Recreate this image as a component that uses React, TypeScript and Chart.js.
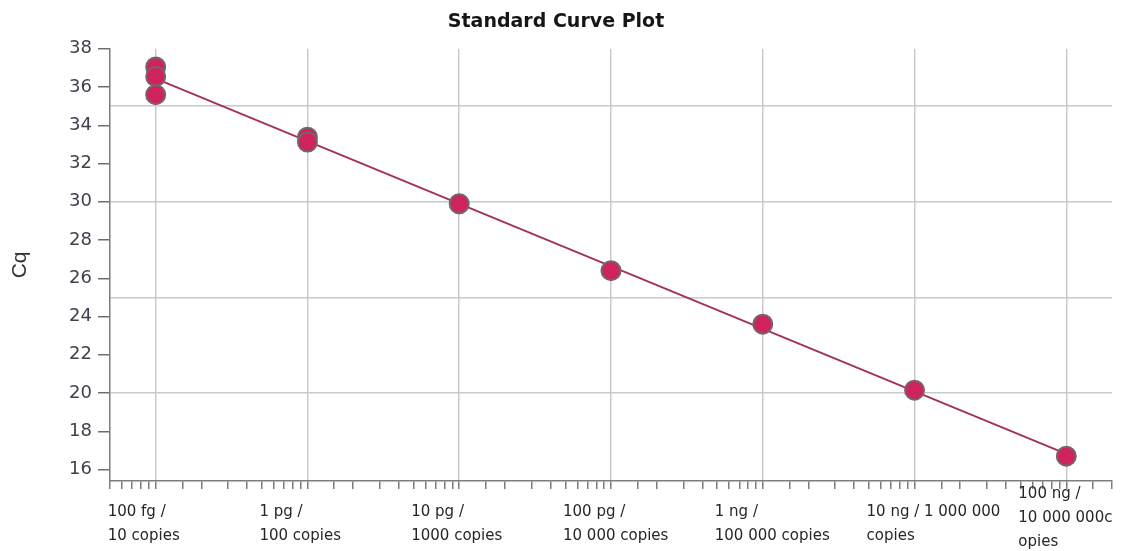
import { useEffect, useRef } from 'react';
import { Chart, registerables } from 'chart.js';

Chart.register(...registerables);

// Standard dilution series: template copies per reaction and measured Cq
const copies = [10, 10, 10, 100, 100, 1000, 10000, 100000, 1000000, 10000000];
const cqValues = [37.05, 36.55, 35.6, 33.38, 33.12, 29.9, 26.4, 23.6, 20.15, 16.7];

// Decade positions on the quantity axis and their labels
const decadeValues = [10, 100, 1000, 10000, 100000, 1000000, 10000000];
const decadeLabels = [
  ['100 fg /', '10 copies'],
  ['1 pg /', '100 copies'],
  ['10 pg /', '1000 copies'],
  ['100 pg /', '10 000 copies'],
  ['1 ng /', '100 000 copies'],
  ['10 ng / 1 000 000', 'copies'],
  ['100 ng /', '10 000 000c', 'opies'],
];

// Cq axis: labelled ticks and the reference lines across the plot
const yTickValues = [16, 18, 20, 22, 24, 26, 28, 30, 32, 34, 36, 38];
const yGridValues = [20, 25, 30, 35];

const isDecade = (v: number) =>
  v > 0 && Math.abs(Math.log10(v) - Math.round(Math.log10(v))) < 1e-9;

// Least-squares fit of Cq against log10(copies)
function fitStandardCurve(xs: number[], ys: number[]) {
  const lx = xs.map((x) => Math.log10(x));
  const n = lx.length;
  const mx = lx.reduce((a, b) => a + b, 0) / n;
  const my = ys.reduce((a, b) => a + b, 0) / n;
  let sxy = 0;
  let sxx = 0;
  for (let i = 0; i < n; i++) {
    sxy += (lx[i] - mx) * (ys[i] - my);
    sxx += (lx[i] - mx) * (lx[i] - mx);
  }
  const slope = sxy / sxx;
  return { slope, intercept: my - slope * mx };
}

// Draws the multi-line quantity labels under each decade, left aligned
const decadeLabelPlugin = {
  id: 'decadeLabels',
  afterDraw(chart: any) {
    const xs = chart.scales.x;
    const ctx = chart.ctx;
    const lineGap = 24;
    const firstBaseline = xs.top + 35;
    const lowestBaseline = chart.height - 5;
    ctx.save();
    ctx.font = '15px "DejaVu Sans"';
    ctx.fillStyle = '#262626';
    ctx.textAlign = 'left';
    ctx.textBaseline = 'alphabetic';
    decadeValues.forEach((v, i) => {
      const lines = decadeLabels[i];
      const left = xs.getPixelForValue(v) - 48;
      const base = Math.min(firstBaseline, lowestBaseline - (lines.length - 1) * lineGap);
      lines.forEach((t, j) => ctx.fillText(t, left, base + j * lineGap));
    });
    ctx.restore();
  },
};

export default function App() {
  const canvasRef = useRef<HTMLCanvasElement>(null);

  useEffect(() => {
    const canvas = canvasRef.current;
    if (!canvas) return;
    const { slope, intercept } = fitStandardCurve(copies, cqValues);
    const lo = Math.min(...copies);
    const hi = Math.max(...copies);
    const fitAt = (x: number) => intercept + slope * Math.log10(x);

    const gridGray = '#c9c9c9';
    const axisGray = '#7c7c7c';

    const chart = new Chart(canvas, {
      type: 'scatter',
      data: {
        datasets: [
          {
            type: 'scatter',
            label: 'Standards',
            data: copies.map((c, i) => ({ x: c, y: cqValues[i] })),
            pointRadius: 9.5,
            pointBackgroundColor: '#d1235b',
            pointBorderColor: '#75646c',
            pointBorderWidth: 2,
            order: 0,
          },
          {
            type: 'line',
            label: 'Fit',
            data: [
              { x: lo, y: fitAt(lo) },
              { x: hi, y: fitAt(hi) },
            ],
            borderColor: '#a3324f',
            borderWidth: 1.8,
            pointRadius: 0,
            fill: false,
            order: 1,
          },
        ],
      },
      options: {
        animation: false,
        responsive: false,
        layout: { padding: { left: 0, right: 19, top: 0, bottom: 0 } },
        plugins: {
          legend: { display: false },
          tooltip: { enabled: false },
          title: {
            display: true,
            text: 'Standard Curve Plot',
            color: '#161616',
            font: { family: 'DejaVu Sans', size: 19, weight: 'bold' },
            padding: { top: 11, bottom: 15 },
          },
        },
        scales: {
          x: {
            type: 'logarithmic',
            min: 5,
            max: 20000000,
            afterFit: (s: any) => {
              s.height = 70;
            },
            border: { color: axisGray, width: 1.5 },
            grid: {
              color: (c: any) => (c.tick && isDecade(c.tick.value) ? gridGray : 'rgba(0,0,0,0)'),
              lineWidth: 1.5,
              tickColor: axisGray,
              tickLength: 8,
              tickWidth: 1.5,
            },
            ticks: { display: false, autoSkip: false },
          },
          y: {
            min: 15.4,
            max: 38,
            afterBuildTicks: (s: any) => {
              const vals = Array.from(new Set([...yTickValues, ...yGridValues])).sort((a, b) => a - b);
              s.ticks = vals.map((v) => ({ value: v }));
            },
            afterFit: (s: any) => {
              s.width = 110;
            },
            border: { color: axisGray, width: 1.5 },
            grid: {
              color: (c: any) => (c.tick && yGridValues.includes(c.tick.value) ? gridGray : 'rgba(0,0,0,0)'),
              lineWidth: 1.5,
              tickColor: (c: any) => (c.tick && yTickValues.includes(c.tick.value) ? '#6e6e6e' : 'rgba(0,0,0,0)'),
              tickLength: 12,
              tickWidth: 1.5,
            },
            ticks: {
              autoSkip: false,
              color: '#3d424d',
              font: { family: 'DejaVu Sans', size: 18 },
              padding: 6,
              callback: (v: any) => (yTickValues.includes(Number(v)) ? String(v) : ''),
            },
            title: {
              display: true,
              text: 'Cq',
              color: '#333333',
              font: { family: 'Liberation Sans', size: 21 },
              padding: { top: 8, bottom: 0 },
            },
          },
        },
      },
      plugins: [decadeLabelPlugin],
    } as any);

    return () => chart.destroy();
  }, []);

  return (
    <div style={{ position: 'fixed', left: 0, top: 0, width: 1131, height: 551, background: '#fff' }}>
      <canvas ref={canvasRef} width={1131} height={551} />
    </div>
  );
}
